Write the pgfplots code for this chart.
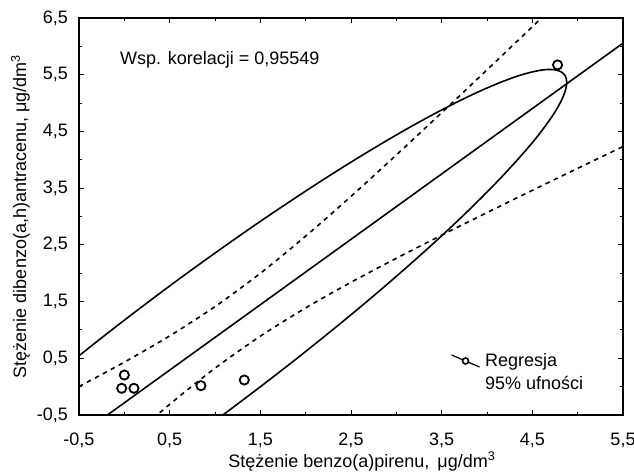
\documentclass[border=0pt]{standalone}
\usepackage{fontspec}
\setmainfont{Liberation Sans}
\usepackage{pgfplots}
\pgfplotsset{compat=1.18}

\newcommand\fs{\fontsize{18bp}{21bp}\selectfont}

\begin{document}
\fs
\begin{tikzpicture}
\useasboundingbox (-79bp,-57bp) rectangle (555bp,415bp);

\begin{axis}[
    at={(0,0)},
    anchor=south west,
    scale only axis,
    width=544bp,
    height=397bp,
    xmin=-0.5, xmax=5.5,
    ymin=-0.5, ymax=6.5,
    xtick={-0.5,0.5,...,5.5},
    ytick={-0.5,0.5,...,6.5},
    minor tick num=1,
    tick align=inside,
    major tick length=5bp,
    minor tick length=3bp,
    every tick/.style={black, line width=1bp},
    axis line style={line width=2bp},
    xticklabel style={anchor=base, yshift=-30bp},
    yticklabel style={xshift=-5bp},
    xlabel={Stężenie benzo(a)pirenu, \,μg/dm\textsuperscript{3}},
    ylabel={Stężenie dibenzo(a,h)antracenu, μg/dm\textsuperscript{3}},
    xlabel style={at={(axis description cs:0.52,0)}, anchor=base, yshift=-52bp},
    ylabel style={at={(axis description cs:-0.0974,0.5)}, anchor=base},
    legend style={at={(axis cs:3.6,0.63)}, anchor=north west, draw=none, fill=none,
        inner sep=0pt, row sep=3bp, column sep=3bp, cells={anchor=west}},
    legend cell align=left,
    /pgf/number format/.cd, use comma, fixed, fixed zerofill, precision=1, assume math mode=true
]

% legend entries
\addlegendimage{legend image code/.code={
    \draw[line width=1.2bp] (0bp,6bp) -- (28bp,-6bp);
    \draw[line width=1.6bp, fill=white] (14bp,0bp) circle (3bp);}}
\addlegendentry{Regresja}
\addlegendimage{empty legend}
\addlegendentry{95\% ufności}

% regression line
\addplot[black, line width=1.6bp] coordinates {(-0.5,-0.8615) (5.5,6.0565)};

% 95% confidence bands
\addplot[black, line width=1.6bp, dash pattern=on 4.5bp off 4.5bp, smooth] coordinates {
    (-0.5,0.001) (0,0.432) (0.5,0.895) (1.0,1.411) (1.5,1.999) (2.0,2.654)
    (2.5,3.355) (3.0,4.085) (3.5,4.830) (4.0,5.585) (4.5,6.346) (5.0,7.111) (5.5,7.879)
};
\addplot[black, line width=1.6bp, dash pattern=on 4.5bp off 4.5bp, smooth] coordinates {
    (-0.5,-1.724) (0,-1.002) (0.5,-0.312) (1.0,0.325) (1.5,0.890) (2.0,1.388)
    (2.5,1.840) (3.0,2.263) (3.5,2.671) (4.0,3.069) (4.5,3.461) (5.0,3.849) (5.5,4.234)
};

% 95% ellipse
\addplot[black, line width=1.6bp, smooth] coordinates {
    (0.444,-1.240) (0.800,-0.834) (1.156,-0.417) (1.508,0.008) (1.856,0.438)
    (2.195,0.870) (2.524,1.299) (2.840,1.724) (3.140,2.141) (3.423,2.546)
    (3.685,2.937) (3.925,3.310) (4.142,3.664) (4.333,3.994) (4.498,4.298)
    (4.634,4.575) (4.741,4.822) (4.818,5.037) (4.864,5.219) (4.880,5.366)
    (4.864,5.477) (4.818,5.551) (4.741,5.588) (4.634,5.588) (4.498,5.549)
    (4.333,5.474) (4.142,5.361) (3.925,5.213) (3.685,5.030) (3.423,4.814)
    (3.140,4.566) (2.840,4.288) (2.524,3.982) (2.195,3.651) (1.856,3.297)
    (1.508,2.923) (1.156,2.532) (0.800,2.126) (0.444,1.709) (0.092,1.284)
    (-0.256,0.854) (-0.595,0.422) (-0.924,-0.008)
};

% data
\addplot[only marks, mark=o, mark size=4.6bp, black,
    mark options={line width=1.8bp}] coordinates {
    (0.000,0.205) (-0.029,-0.029) (0.106,-0.029) (0.845,0.017) (1.323,0.117) (4.778,5.673)
};

\node[anchor=base west] at (axis cs:-0.114,5.673) {Wsp. korelacji = 0,95549};

\end{axis}
\end{tikzpicture}
\end{document}
